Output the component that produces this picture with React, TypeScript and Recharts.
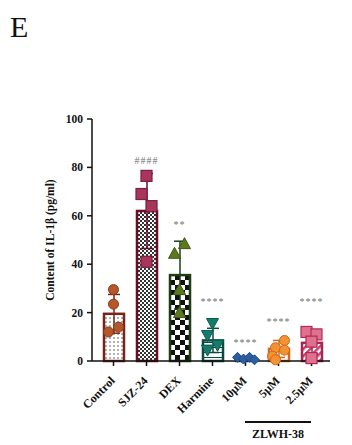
import { ComposedChart, Bar, Scatter, XAxis, YAxis } from 'recharts'

const categories = ['Control', 'SJZ-24', 'DEX', 'Harmine', '10μM', '5μM', '2.5μM']
const means = [19.5, 62, 35.5, 8.5, 0.8, 5, 7.5]
const sds = [8, 15.5, 14, 5, 0.6, 3.5, 4.5]
const points = [
  [29.5, 23.5, 14, 12],
  [76.5, 69, 64, 41],
  [44.5, 48.5, 29.5, 20],
  [15.5, 10.5, 6.5, 4.5],
  [1.5, 0.8, 1.5, 0.5],
  [8.5, 5.5, 4.5, 2, 0.5],
  [12, 11, 8, 1.2],
]
const marks = ['', '####', '**', '****', '****', '****', '****']
const markLevels = [null, 83, 56.5, 25, 8, 16.5, 25]

// horizontal spread of the dots inside each bar (px)
const jitter = [
  [0, 0, 5, -5],
  [0, -5, 5, 0],
  [-5, 5, 0, 0],
  [0, -5, 5, -5],
  [-8, -2, 4, 9],
  [6, -3, 6, -6, -3],
  [-5, 5, 0, 0],
]

const outline = ['#7a2418', '#6a0f22', '#1f3d12', '#0b4a3c', '#2a5a9c', '#d06a1e', '#a8274f']
const dotFill = ['#b5572d', '#a8355c', '#5a7a1c', '#137c6c', '#2d5fa0', '#f39233', '#e0708f']
const dotStroke = ['#8a3a1a', '#7a1f3f', '#41591a', '#0b5a4c', '#1f4a85', '#d0651a', '#b02a55']

const data = categories.map((name, i) => {
  const row: any = { name, mean: means[i], sd: sds[i], mark: marks[i], markY: markLevels[i] }
  points[i].forEach((v, k) => (row['p' + k] = v))
  return row
})

const font = "'Liberation Serif', 'Times New Roman', serif"

function BarShape(props: any) {
  const { x, y, width, height, index } = props
  const perUnit = height / means[index]
  const sdPx = sds[index] * perUnit
  const cx = x + width / 2
  const c = outline[index]
  return (
    <g>
      <rect x={x} y={y} width={width} height={height} fill={`url(#pat${index})`} stroke={c} strokeWidth={2.5} />
      <line x1={cx} x2={cx} y1={y - sdPx} y2={y + sdPx} stroke={c} strokeWidth={1.5} />
      <line x1={cx - 6} x2={cx + 6} y1={y - sdPx} y2={y - sdPx} stroke={c} strokeWidth={1.5} />
      <line x1={cx - 6} x2={cx + 6} y1={y + sdPx} y2={y + sdPx} stroke={c} strokeWidth={1.5} />
    </g>
  )
}

function dotShape(k: number) {
  return (props: any) => {
    const { cx, cy, payload } = props
    const i = categories.indexOf(payload.name)
    const v = payload['p' + k]
    if (v == null || isNaN(cy)) return <g />
    const x = cx + jitter[i][k]
    const f = dotFill[i]
    const s = dotStroke[i]
    if (i === 0 || i === 5) return <circle cx={x} cy={cy} r={5} fill={f} stroke={s} strokeWidth={1} />
    if (i === 1 || i === 6) return <rect x={x - 5.5} y={cy - 5.5} width={11} height={11} fill={f} stroke={s} strokeWidth={1.2} />
    if (i === 2) return <polygon points={`${x},${cy - 6} ${x + 6},${cy + 5} ${x - 6},${cy + 5}`} fill={f} stroke={s} strokeWidth={1} />
    if (i === 3) return <polygon points={`${x},${cy + 6} ${x + 6},${cy - 5} ${x - 6},${cy - 5}`} fill={f} stroke={s} strokeWidth={1} />
    return <polygon points={`${x},${cy - 5} ${x + 5},${cy} ${x},${cy + 5} ${x - 5},${cy}`} fill={f} stroke={s} strokeWidth={1} />
  }
}

function MarkShape(props: any) {
  const { cx, cy, payload } = props
  if (!payload.mark || isNaN(cy)) return <g />
  return (
    <text x={cx} y={cy} dy={4} textAnchor="middle" fontSize={10} fill="#707070" fontFamily={font} letterSpacing={1}>
      {payload.mark}
    </text>
  )
}

function XTick(props: any) {
  const { x, y, payload } = props
  return (
    <g transform={`translate(${x},${y})`}>
      <text x={-8} y={11} textAnchor="end" transform="rotate(-45)" fontSize={12} fontWeight="bold" fontFamily={font} fill="#111">
        {payload.value}
      </text>
    </g>
  )
}

export default function App() {
  return (
    <div style={{ position: 'relative', width: 352, height: 445, background: '#fff', fontFamily: font }}>
      <style>{`body{margin:0}`}</style>
      <div style={{ position: 'absolute', left: 10, top: 10, fontSize: 30, lineHeight: '34px', color: '#111', fontFamily: font }}>E</div>
      <ComposedChart width={352} height={445} data={data} margin={{ top: 119, right: 22, bottom: 0, left: 0 }}>
        <defs>
          <pattern id="pat0" width={4} height={4} patternUnits="userSpaceOnUse">
            <rect width={4} height={4} fill="#fff" />
            <circle cx={2} cy={2} r={0.8} fill="#555" />
          </pattern>
          <pattern id="pat1" width={4} height={4} patternUnits="userSpaceOnUse">
            <rect width={4} height={4} fill="#fff" />
            <rect width={2} height={2} fill="#333" />
            <rect x={2} y={2} width={2} height={2} fill="#333" />
          </pattern>
          <pattern id="pat2" width={10} height={10} patternUnits="userSpaceOnUse">
            <rect width={10} height={10} fill="#fff" />
            <rect width={5} height={5} fill="#111" />
            <rect x={5} y={5} width={5} height={5} fill="#111" />
          </pattern>
          <pattern id="pat3" width={5} height={5} patternUnits="userSpaceOnUse">
            <rect width={5} height={5} fill="#fff" />
            <line x1={0} x2={5} y1={2.5} y2={2.5} stroke="#0b4a3c" strokeWidth={1} />
          </pattern>
          <pattern id="pat4" width={4} height={4} patternUnits="userSpaceOnUse">
            <rect width={4} height={4} fill="#2a5a9c" />
          </pattern>
          <pattern id="pat5" width={4} height={4} patternUnits="userSpaceOnUse">
            <rect width={4} height={4} fill="#fff" />
          </pattern>
          <pattern id="pat6" width={5} height={5} patternUnits="userSpaceOnUse" patternTransform="rotate(45)">
            <rect width={5} height={5} fill="#fff" />
            <rect width={2.5} height={5} fill="#c8406a" />
          </pattern>
        </defs>
        <XAxis
          dataKey="name"
          height={84}
          padding={{ left: 5, right: 2 }}
          tick={<XTick />}
          tickSize={5}
          interval={0}
          stroke="#111"
          strokeWidth={1.5}
        />
        <YAxis
          width={92}
          domain={[0, 100]}
          ticks={[0, 20, 40, 60, 80, 100]}
          tickSize={5}
          tickMargin={4}
          stroke="#111"
          strokeWidth={1.5}
          tick={{ fontSize: 11.5, fontWeight: 'bold', fill: '#111', fontFamily: font }}
          label={{
            value: 'Content of IL-1β (pg/ml)',
            angle: -90,
            position: 'insideLeft',
            offset: 50,
            style: { textAnchor: 'middle', fontSize: 11.5, fontWeight: 'bold', fill: '#111', fontFamily: font },
          }}
        />
        <Bar dataKey="mean" barSize={20} shape={BarShape} isAnimationActive={false} />
        {[0, 1, 2, 3, 4].map((k) => (
          <Scatter key={k} dataKey={'p' + k} shape={dotShape(k)} isAnimationActive={false} />
        ))}
        <Scatter dataKey="markY" shape={MarkShape} isAnimationActive={false} />
      </ComposedChart>
      <div style={{ position: 'absolute', left: 245, top: 421, width: 66, height: 2, background: '#111' }} />
      <div style={{ position: 'absolute', left: 238, top: 427, width: 80, textAlign: 'center', fontSize: 12, lineHeight: '14px', fontWeight: 'bold', color: '#111', fontFamily: font }}>
        ZLWH-38
      </div>
    </div>
  )
}
